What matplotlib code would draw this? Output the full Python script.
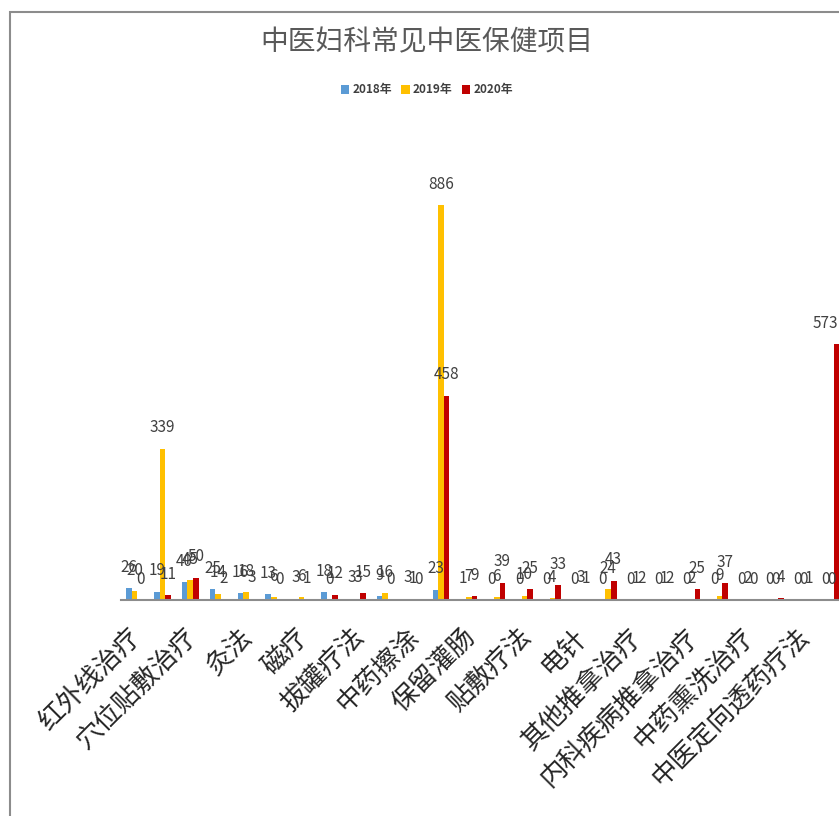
import numpy as np
import matplotlib
matplotlib.use("Agg")
import matplotlib.pyplot as plt
from matplotlib.patches import Patch, Rectangle
from matplotlib.transforms import ScaledTranslation

plt.rcParams["font.family"] = ["Noto Sans CJK SC", "DejaVu Sans"]
plt.rcParams["axes.unicode_minus"] = False

# --- data ---
TITLE = "中医妇科常见中医保健项目"
YEARS = ["2018年", "2019年", "2020年"]
COLORS = ["#5B9BD5", "#FFC000", "#C00000"]

# every other category carries a visible axis label
TICK_LABELS = [
    "红外线治疗", "穴位贴敷治疗", "灸法", "磁疗", "拔罐疗法", "中药擦涂", "保留灌肠",
    "贴敷疗法", "电针", "其他推拿治疗", "内科疾病推拿治疗", "中药熏洗治疗", "中医定向透药疗法",
]

Y2018 = [26, 19, 40, 25, 16, 13, 3, 18, 3, 9, 3, 23, 1, 0, 0, 0, 0, 0, 0, 0, 0, 0, 0, 0, 0, 0]
Y2019 = [20, 339, 45, 14, 18, 6, 6, 0, 3, 16, 1, 886, 7, 6, 10, 4, 3, 24, 1, 1, 2, 9, 2, 0, 0, 0]
Y2020 = [0, 11, 50, 2, 3, 0, 1, 12, 15, 0, 0, 458, 9, 39, 25, 33, 1, 43, 2, 2, 25, 37, 0, 4, 1, 573]

W, H = 839, 816
fig = plt.figure(figsize=(W / 100, H / 100), dpi=100)
fig.patch.set_facecolor("white")

# chart frame (runs off the right and bottom edges)
fig.patches.append(Rectangle((9.5 / W, -0.2), 2.0, 1.2 - 12 / H, transform=fig.transFigure,
                             fill=False, edgecolor="#8c8c8c", linewidth=1.5))

ax = fig.add_axes([120.6 / W, (H - 600) / H, 724.4 / W, 446 / H])
x = np.arange(len(Y2018))
width = 0.2
series = [Y2018, Y2019, Y2020]
last = len(x) - 1
for i, (vals, color, name) in enumerate(zip(series, COLORS, YEARS)):
    pos = x + (i - 1) * width
    ax.bar(pos, vals, width, color=color, label=name, zorder=2)
    for k, (px, v) in enumerate(zip(pos, vals)):
        # keep the right-most label inside the chart area
        if k == last and i == 2:
            ha, dx = "right", 1
        else:
            ha, dx = "center", 0
        ax.annotate(str(v), (px, v), xytext=(dx, 15), textcoords="offset points",
                    ha=ha, va="center", fontsize=11, color="#404040")

ax.set_xlim(-0.5, len(x) - 0.5)
ax.set_ylim(0, 1000)
ax.set_yticks([])
for s in ["top", "right", "left"]:
    ax.spines[s].set_visible(False)
ax.spines["bottom"].set_color("#8c8c8c")
ax.spines["bottom"].set_linewidth(1.5)
ax.spines["bottom"].set_zorder(3)

ax.set_xticks(x[::2])
ax.set_xticklabels(TICK_LABELS, rotation=45, ha="right", va="center",
                   rotation_mode="anchor", fontsize=19, color="#262626")
ax.tick_params(axis="x", length=0, pad=23.5)
shift = ScaledTranslation(2 / 100, 0, fig.dpi_scale_trans)
for lbl in ax.get_xticklabels():
    lbl.set_transform(lbl.get_transform() + shift)

fig.text(427 / W, 1 - 42.5 / H, TITLE, ha="center", va="center", fontsize=20, color="#595959")

handles = [Patch(facecolor=c, label=n) for c, n in zip(COLORS, YEARS)]
fig.legend(handles=handles, loc="center", bbox_to_anchor=(427 / W, 1 - 90 / H), ncol=3,
           frameon=False, prop={"size": 8.5, "weight": "bold"}, handlelength=0.7,
           handleheight=0.7, handletextpad=0.3, columnspacing=0.8, labelcolor="#404040")

fig.savefig("out.png", dpi=100, facecolor="white")
plt.close(fig)
